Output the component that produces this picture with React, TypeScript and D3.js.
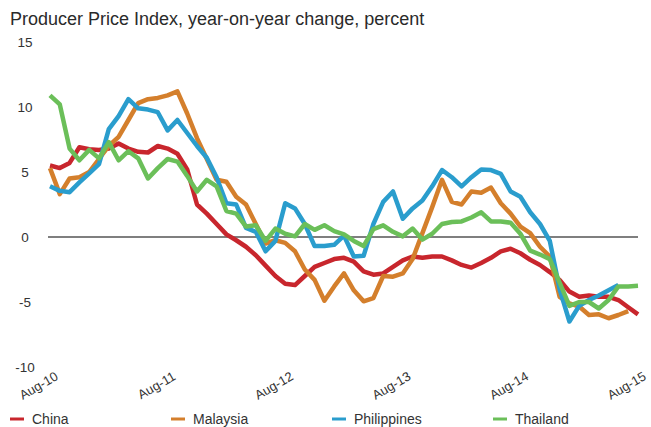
import React from "react";
import * as d3 from "d3";

const title = "Producer Price Index, year-on-year change, percent";
const yTicks = [15, 10, 5, 0, -5, -10];
const xTickLabels = ["Aug-10", "Aug-11", "Aug-12", "Aug-13", "Aug-14", "Aug-15"];
const xTickMonths = [0, 12, 24, 36, 48, 60];

const seriesNames = ["China", "Malaysia", "Philippines", "Thailand"];
const seriesColors = ["#C8262D", "#D47F2C", "#2A9DCD", "#6BBF59"];

const china = [5.5, 5.3, 5.7, 6.9, 6.75, 6.7, 6.8, 7.2, 6.8, 6.55, 6.5, 7.0, 6.8, 6.4, 5.2,
  2.5, 1.8, 1.0, 0.2, -0.25, -0.75, -1.4, -2.2, -3.0, -3.6, -3.7, -3.0, -2.3, -2.0, -1.7, -1.6,
  -1.9, -2.65, -2.9, -2.8, -2.3, -1.8, -1.5, -1.6, -1.5, -1.5, -1.8, -2.15, -2.35, -2.0, -1.6,
  -1.1, -0.9, -1.25, -1.75, -2.15, -2.7, -3.3, -4.2, -4.6, -4.5, -4.6, -4.6, -4.85, -5.4, -5.95];
const malaysia = [5.3, 3.3, 4.5, 4.6, 5.0, 6.0, 7.0, 7.7, 9.0, 10.3, 10.6, 10.7, 10.9, 11.2,
  9.5, 7.6, 6.0, 4.4, 4.25, 3.1, 2.5, 1.0, -0.5, -0.25, -0.45, -1.1, -2.5, -3.3, -4.9, -3.8,
  -2.8, -4.1, -4.95, -4.7, -3.0, -3.05, -2.8, -1.7, 0.3, 2.3, 4.4, 2.7, 2.5, 3.5, 3.4, 3.8,
  2.6, 1.8, 0.8, 0.3, -0.75, -1.5, -4.6, -5.1, -5.35, -6.0, -5.95, -6.25, -6.0, -5.7];
const philippines = [3.9, 3.55, 3.45, 4.2, 4.9, 5.6, 8.3, 9.3, 10.6, 9.9, 9.8, 9.6, 8.2, 9.0, 8.0, 7.0,
  6.1, 4.6, 2.6, 2.5, 0.7, 0.4, -1.1, -0.3, 2.6, 2.2, 1.0, -0.7, -0.7, -0.6, 0.1, -1.5,
  -1.45, 1.0, 2.7, 3.5, 1.4, 2.2, 2.8, 3.9, 5.15, 4.6, 3.9, 4.6, 5.2, 5.15, 4.85, 3.5,
  3.1, 1.9, 1.0, -0.3, -4.0, -6.5, -5.3, -4.85, -4.5, -4.1, -3.7];
const thailand = [10.9, 10.2, 6.8, 5.9, 6.7, 6.05, 7.3, 5.9, 6.6, 6.05, 4.5, 5.3, 6.0, 5.8, 4.7, 3.5,
  4.4, 3.9, 2.0, 1.8, 0.8, 0.9, -0.3, 0.65, 0.25, 0.05, 1.0, 0.55, 0.9, 0.45, 0.2, -0.3,
  -0.7, 0.6, 0.9, 0.4, 0.05, 0.65, -0.2, 0.25, 1.0, 1.15, 1.2, 1.5, 1.9, 1.2, 1.2, 1.1,
  0.25, -1.05, -1.35, -1.7, -3.5, -5.3, -5.0, -5.0, -5.5, -4.85, -3.8, -3.8, -3.75];

const allSeries = [china, malaysia, philippines, thailand];

const W = 651;
const H = 427;
const FONT = "'Liberation Sans', Arial, sans-serif";

export default function App() {
  const x = d3.scaleLinear().domain([0, 60]).range([50, 638]);
  const y = d3.scaleLinear().domain([-10, 15]).range([367, 42]);
  const line = d3
    .line<number>()
    .x((_, i) => x(i))
    .y((d) => y(d))
    .curve(d3.curveLinear);

  return (
    <svg
      width={W}
      height={H}
      style={{ position: "absolute", left: 0, top: 0, background: "#fff" }}
      fontFamily={FONT}
    >
      <text x={10} y={25} fontSize={18} fill="#2a2a2a">
        {title}
      </text>
      {yTicks.map((t) => (
        <text key={t} x={25} y={y(t) + 5} fontSize={13.5} textAnchor="middle" fill="#333">
          {t}
        </text>
      ))}
      <line x1={48} x2={638} y1={y(0)} y2={y(0)} stroke="#555" strokeWidth={1.3} />
      {allSeries.map((s, i) => (
        <path
          key={seriesNames[i]}
          d={line(s) || ""}
          fill="none"
          stroke={seriesColors[i]}
          strokeWidth={4.5}
          strokeLinejoin="round"
          strokeLinecap="butt"
        />
      ))}
      {xTickLabels.map((lab, i) => {
        const px = x(xTickMonths[i]) + 9;
        const py = 379;
        return (
          <text
            key={lab}
            x={px}
            y={py}
            fontSize={13}
            textAnchor="end"
            fill="#333"
            transform={`rotate(-30 ${px} ${py})`}
          >
            {lab}
          </text>
        );
      })}
      {seriesNames.map((n, i) => {
        const lx = 10 + i * 161;
        return (
          <g key={n}>
            <line x1={lx} x2={lx + 14} y1={419} y2={419} stroke={seriesColors[i]} strokeWidth={3} />
            <text x={lx + 22} y={424} fontSize={14} fill="#333">
              {n}
            </text>
          </g>
        );
      })}
    </svg>
  );
}
